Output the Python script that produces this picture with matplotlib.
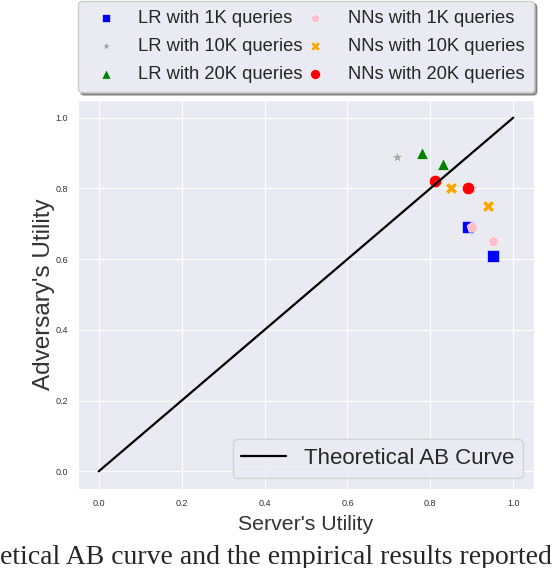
import matplotlib.pyplot as plt
import seaborn as sns

sns.set_style('darkgrid')
plt.rcParams['font.family'] = ['Liberation Sans', 'DejaVu Sans']

curve = [0.0, 1.0]

lr_1k_x = [0.89, 0.95]
lr_1k_y = [0.69, 0.61]
lr_10k_x = [0.72, 0.90]
lr_10k_y = [0.89, 0.80]
lr_20k_x = [0.78, 0.83]
lr_20k_y = [0.90, 0.87]
nn_1k_x = [0.90, 0.95]
nn_1k_y = [0.69, 0.65]
nn_10k_x = [0.85, 0.94]
nn_10k_y = [0.80, 0.75]
nn_20k_x = [0.81, 0.89]
nn_20k_y = [0.82, 0.80]

fig = plt.figure(figsize=(5.56, 5.68), dpi=100)
ax = fig.add_axes([78 / 556, 1 - 489 / 568, 456 / 556, 389 / 568])

line, = ax.plot(curve, curve, color='black', lw=1.6, label='Theoretical AB Curve')

pts = []
pts.append(ax.scatter(lr_1k_x, lr_1k_y, marker='s', s=65, color='blue', edgecolor='white', lw=0.4, label='LR with 1K queries'))
pts.append(ax.scatter(lr_10k_x, lr_10k_y, marker='*', s=80, color='darkgrey', edgecolor='white', lw=0.4, label='LR with 10K queries'))
pts.append(ax.scatter(lr_20k_x, lr_20k_y, marker='^', s=70, color='green', edgecolor='white', lw=0.4, label='LR with 20K queries'))
pts.append(ax.scatter(nn_1k_x, nn_1k_y, marker='p', s=70, color='pink', edgecolor='white', lw=0.4, label='NNs with 1K queries'))
pts.append(ax.scatter(nn_10k_x, nn_10k_y, marker='X', s=75, color='orange', edgecolor='white', lw=0.4, label='NNs with 10K queries'))
pts.append(ax.scatter(nn_20k_x, nn_20k_y, marker='o', s=80, color='red', edgecolor='white', lw=0.4, label='NNs with 20K queries'))

ax.set_xlim(-0.05, 1.05)
ax.set_ylim(-0.05, 1.05)
ax.set_xticks([0.0, 0.2, 0.4, 0.6, 0.8, 1.0])
ax.set_yticks([0.0, 0.2, 0.4, 0.6, 0.8, 1.0])
ax.tick_params(labelsize=6.5, colors='#333333')
ax.set_xlabel("Server's Utility", fontsize=15.3, color='#333333', labelpad=5)
ax.set_ylabel("Adversary's Utility", fontsize=17.5, color='#333333', labelpad=0.5)

top = ax.legend(handles=pts, loc='lower left', bbox_to_anchor=(0, 1.02, 1, 0.2), mode='expand',
                ncol=2, fontsize=13.2, labelspacing=0.6, borderpad=0.5, shadow=True,
                borderaxespad=0, frameon=True, markerscale=0.8)
ax.add_artist(top)
ax.legend(handles=[line], loc='lower right', fontsize=16, handlelength=2.0)

fig.text(0.0, 4 / 568, 'etical AB curve and the empirical results reported', fontsize=20,
         family='Liberation Serif', ha='left', va='baseline')

plt.savefig('out.png')
plt.close()
